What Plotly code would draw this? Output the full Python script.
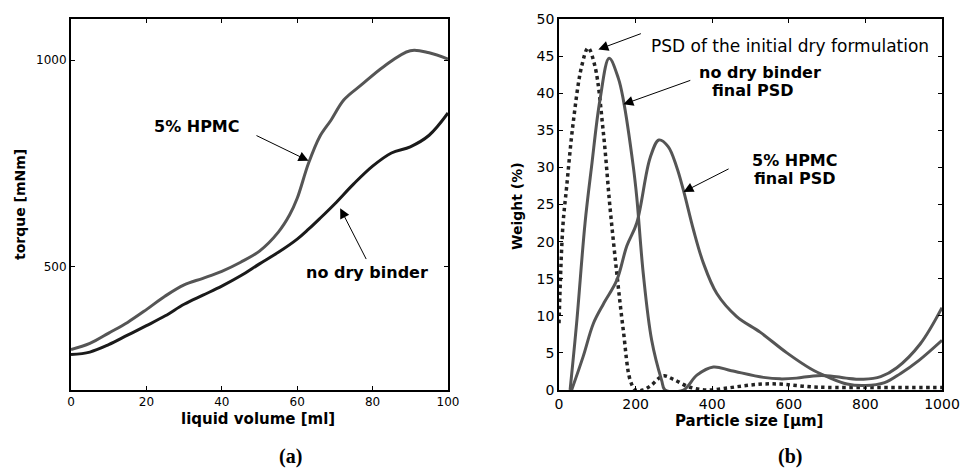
import plotly.graph_objects as go

# ---- Panel (a): torque vs liquid volume ----
vol_hpmc = [0, 5, 10, 15, 20, 25, 30, 35, 40, 45, 50, 55, 58, 60, 63, 66, 69, 72.4, 77, 83, 90, 95, 100]
torque_hpmc = [298, 313, 338, 364, 395, 428, 455, 471, 488, 510, 537, 583, 625, 665, 750, 815, 855, 904, 940, 985, 1023, 1018, 1003]
vol_nob = [0, 5, 10, 15, 20, 25, 30, 35, 40, 45, 50, 55, 60, 63, 66, 70, 75, 80, 85, 90, 95, 100]
torque_nobinder = [286, 292, 310, 333, 356, 380, 408, 430, 452, 477, 506, 534, 566, 590, 616, 652, 700, 743, 775, 790, 818, 872]

# ---- Panel (b): particle size distributions ----
psd_init_x = [0, 10, 20, 37, 59, 76, 94, 116, 133, 151, 168, 186, 200, 220, 240, 272, 300, 340, 386, 430, 480, 530, 577, 620, 664, 700, 800, 900, 1000]
psd_init_y = [9, 22, 27.4, 36, 43.6, 46.1, 43.6, 34.6, 24.7, 15.7, 8, 1.3, 0, 0, 0.6, 1.9, 1.4, 0.4, 0, 0.2, 0.55, 0.8, 0.8, 0.6, 0.4, 0.35, 0.35, 0.35, 0.35]

psd_nob_x = [29, 46, 68, 85, 107, 131, 155, 168, 194, 203, 220, 242, 268, 277, 325, 360, 403, 450, 534, 577, 620, 664, 708, 750, 795, 840, 882, 943, 1000]
psd_nob_y = [0, 9, 22.5, 30.1, 39.1, 44.7, 42, 39.1, 30.1, 26, 15.7, 6.7, 1.3, 0, 0, 2.0, 3.1, 2.6, 1.7, 1.5, 1.6, 1.9, 1.9, 1.6, 1.45, 1.8, 3.0, 6.2, 11.1]

psd_hpmc_x = [33, 63, 90, 116, 151, 177, 203, 238, 261, 285, 307, 325, 351, 377, 412, 464, 525, 595, 656, 700, 752, 800, 850, 891, 940, 1000]
psd_hpmc_y = [0, 4.5, 9, 11.6, 14.8, 19.4, 22.5, 31.3, 33.7, 32.8, 30.1, 26.9, 21.6, 17.1, 13, 9.9, 7.8, 5, 2.9, 1.8, 0.8, 0.6, 1.0, 2.2, 4.0, 6.7]

FONT = "DejaVu Sans"
GRAY = "#555555"

fig = go.Figure()

fig.add_trace(go.Scatter(x=vol_hpmc, y=torque_hpmc, mode="lines", line=dict(color=GRAY, width=3, shape="spline"),
                         xaxis="x", yaxis="y", showlegend=False))
fig.add_trace(go.Scatter(x=vol_nob, y=torque_nobinder, mode="lines", line=dict(color="#1a1a1a", width=3, shape="spline"),
                         xaxis="x", yaxis="y", showlegend=False))

fig.add_trace(go.Scatter(x=psd_init_x, y=psd_init_y, mode="lines",
                         line=dict(color="#222222", width=3.5, dash="dot", shape="spline"),
                         xaxis="x2", yaxis="y2", showlegend=False))
fig.add_trace(go.Scatter(x=psd_nob_x, y=psd_nob_y, mode="lines", line=dict(color=GRAY, width=3, shape="spline"),
                         xaxis="x2", yaxis="y2", showlegend=False))
fig.add_trace(go.Scatter(x=psd_hpmc_x, y=psd_hpmc_y, mode="lines", line=dict(color=GRAY, width=3, shape="spline"),
                         xaxis="x2", yaxis="y2", showlegend=False))

W, H = 961, 468
def px(xp):
    return xp / W
def py(yp):
    return 1 - yp / H

axis_common = dict(showgrid=False, zeroline=False, showline=True, linecolor="black", mirror="ticks",
                   ticks="inside", ticklen=4, tickcolor="black", tickwidth=1, automargin=False)

fig.update_layout(
    template="none",
    width=W, height=H, margin=dict(l=0, r=0, t=0, b=0, pad=0), autosize=False,
    paper_bgcolor="white", plot_bgcolor="white",
    font=dict(family=FONT, color="black"),
    xaxis=dict(domain=[px(71), px(448)], range=[0, 100], tickvals=[0, 20, 40, 60, 80, 100],
               linewidth=2, tickfont=dict(size=12, family=FONT), anchor="y", **axis_common),
    yaxis=dict(domain=[py(390), py(19)], range=[200, 1100], tickvals=[500, 1000],
               linewidth=2, tickfont=dict(size=12, family=FONT), anchor="x", **axis_common),
    xaxis2=dict(domain=[px(559), px(942)], range=[0, 1000], tickvals=[0, 200, 400, 600, 800, 1000],
                linewidth=1.5, tickfont=dict(size=14, family=FONT), anchor="y2", **axis_common),
    yaxis2=dict(domain=[py(390), py(19)], range=[0, 50], tickvals=list(range(0, 55, 5)),
                linewidth=1.5, tickfont=dict(size=14, family=FONT), anchor="x2", **axis_common),
)

ann = []
P = dict(xref="paper", yref="paper", showarrow=False, xanchor="center", yanchor="middle")
# axis titles
ann.append(dict(text="<b>liquid volume [ml]</b>", x=px(257.5), y=py(419), font=dict(size=15, family=FONT), **P))
ann.append(dict(text="<b>torque [mNm]</b>", x=px(20), y=py(205), textangle=-90, font=dict(size=14, family=FONT), **P))
ann.append(dict(text="<b>Particle size [μm]</b>", x=px(749), y=py(421), font=dict(size=15, family=FONT), **P))
ann.append(dict(text="<b>Weight (%)</b>", x=px(517), y=py(206), textangle=-90, font=dict(size=14, family=FONT), **P))
# panel labels
ann.append(dict(text="<b>(a)</b>", x=px(290), y=py(456), font=dict(size=20, family="Liberation Serif"), **P))
ann.append(dict(text="<b>(b)</b>", x=px(790), y=py(456), font=dict(size=20, family="Liberation Serif"), **P))

A = dict(showarrow=True, arrowhead=2, arrowsize=2, arrowwidth=1, arrowcolor="black", text="")
T1 = dict(xref="x", yref="y", showarrow=False, yanchor="middle")
T2 = dict(xref="x2", yref="y2", showarrow=False, yanchor="middle")

# panel (a) labels + arrows
ann.append(dict(text="<b>5% HPMC</b>", x=33.4, y=839, xanchor="center", font=dict(size=16, family=FONT), **T1))
ann.append(dict(x=63.0, y=756, ax=48.8, ay=819, xref="x", yref="y", axref="x", ayref="y", **A))
ann.append(dict(text="<b>no dry binder</b>", x=78.5, y=486, xanchor="center", font=dict(size=16, family=FONT), **T1))
ann.append(dict(x=71.4, y=641, ax=78.5, ay=514, xref="x", yref="y", axref="x", ayref="y", **A))

# panel (b) labels + arrows
ann.append(dict(text="PSD of the initial dry formulation", x=604, y=46.3, xanchor="center",
                font=dict(size=17, family=FONT), **T2))
ann.append(dict(x=102.7, y=45.9, ax=217.7, ay=48.1, xref="x2", yref="y2", axref="x2", ayref="y2", **A))
ann.append(dict(text="<b>no dry binder</b>", x=526, y=42.8, xanchor="center", font=dict(size=16, family=FONT), **T2))
ann.append(dict(text="<b>final PSD</b>", x=505.6, y=40.3, xanchor="center", font=dict(size=16, family=FONT), **T2))
ann.append(dict(x=168, y=38.5, ax=346.7, ay=41.8, xref="x2", yref="y2", axref="x2", ayref="y2", **A))
ann.append(dict(text="<b>5% HPMC</b>", x=499, y=30.9, xanchor="left", font=dict(size=16, family=FONT), **T2))
ann.append(dict(text="<b>final PSD</b>", x=503.5, y=28.5, xanchor="left", font=dict(size=16, family=FONT), **T2))
ann.append(dict(x=324.8, y=26.7, ax=446.8, ay=29.9, xref="x2", yref="y2", axref="x2", ayref="y2", **A))

fig.update_layout(annotations=ann)

fig.write_html("out.html")
